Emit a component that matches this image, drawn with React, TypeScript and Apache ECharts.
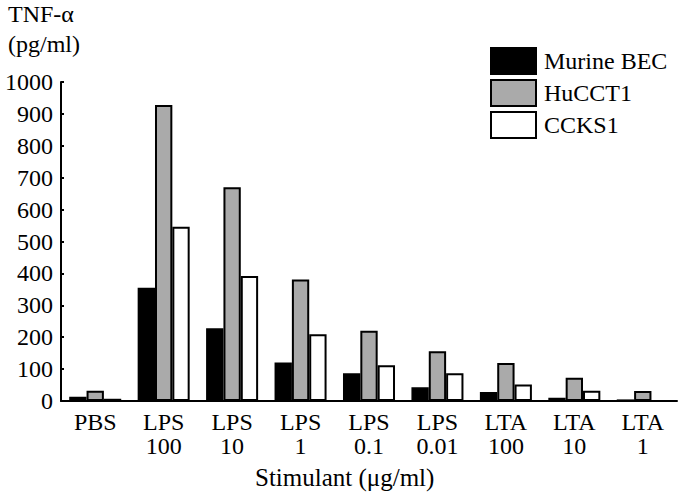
import React, { useEffect, useRef } from "react";
import * as echarts from "echarts";

const categories = ["PBS", "LPS\n100", "LPS\n10", "LPS\n1", "LPS\n0.1", "LPS\n0.01", "LTA\n100", "LTA\n10", "LTA\n1"];
const murineBEC = [13, 355, 228, 121, 87, 43, 28, 10, 5];
const huCCT1 = [32, 928, 670, 381, 220, 156, 119, 73, 31];
const ccks1 = [7, 546, 392, 209, 112, 87, 52, 32, 0];
const yTicks = [0, 1000, 100];

const FONT = "Liberation Serif";

export default function App() {
  const ref = useRef<HTMLDivElement>(null);
  useEffect(() => {
    if (!ref.current) return;
    const chart = echarts.init(ref.current, null, { renderer: "svg" });
    const barBase = { type: "bar", barGap: "0%", barCategoryGap: "24%" };
    chart.setOption({
      animation: false,
      backgroundColor: "#fff",
      textStyle: { fontFamily: FONT, color: "#000" },
      grid: { left: 61, right: 8, top: 82, bottom: 96 },
      legend: {
        orient: "vertical",
        left: 490,
        top: 47,
        padding: 0,
        itemWidth: 45,
        itemHeight: 26,
        itemGap: 4,
        icon: "rect",
        textStyle: { fontFamily: FONT, fontSize: 24, color: "#000", padding: [0, 0, 0, 3] },
        data: ["Murine BEC", "HuCCT1", "CCKS1"],
      },
      xAxis: {
        type: "category",
        data: categories,
        axisLine: { lineStyle: { color: "#000", width: 2 } },
        axisTick: { show: false },
        axisLabel: { fontFamily: FONT, fontSize: 24, color: "#000", lineHeight: 24, margin: 9, interval: 0 },
      },
      yAxis: {
        type: "value",
        min: yTicks[0],
        max: yTicks[1],
        interval: yTicks[2],
        splitLine: { show: false },
        axisLine: { show: true, lineStyle: { color: "#000", width: 2 } },
        axisTick: { show: true, inside: true, length: 3, lineStyle: { color: "#000", width: 2 } },
        axisLabel: { fontFamily: FONT, fontSize: 24, color: "#000", margin: 8, formatter: (v: number) => String(v) },
      },
      graphic: [
        { type: "text", left: 8, top: 2, style: { text: "TNF-α", fontFamily: FONT, fontSize: 24, fill: "#000" } },
        { type: "text", left: 8, top: 32, style: { text: "(pg/ml)", fontFamily: FONT, fontSize: 24, fill: "#000" } },
        { type: "text", left: 255, top: 465, style: { text: "Stimulant (μg/ml)", fontFamily: FONT, fontSize: 25, fill: "#000" } },
      ],
      series: [
        { ...barBase, name: "Murine BEC", data: murineBEC, itemStyle: { color: "#000", borderColor: "#000", borderWidth: 1.5 } },
        { ...barBase, name: "HuCCT1", data: huCCT1, itemStyle: { color: "#aaaaaa", borderColor: "#000", borderWidth: 2 } },
        { ...barBase, name: "CCKS1", data: ccks1, itemStyle: { color: "#fff", borderColor: "#000", borderWidth: 2 } },
      ],
    });
    return () => chart.dispose();
  }, []);
  return <div ref={ref} style={{ width: 685, height: 497, position: "absolute", left: 0, top: 0 }} />;
}
